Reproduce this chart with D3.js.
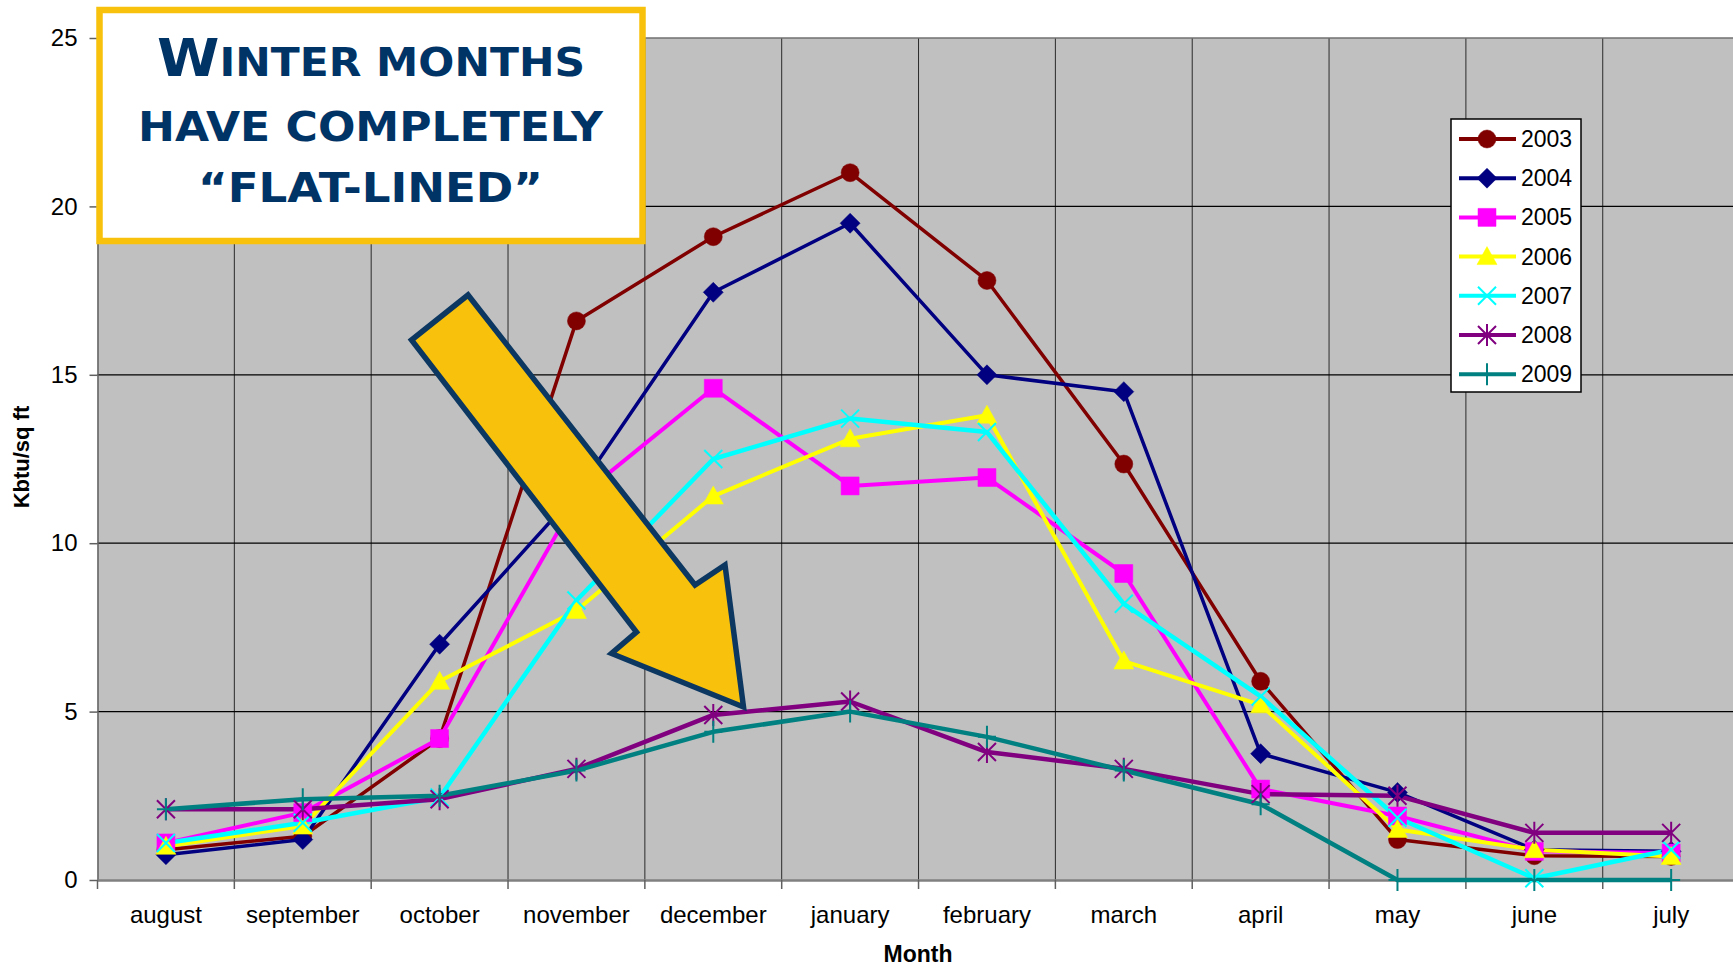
<!DOCTYPE html>
<html>
<head>
<meta charset="utf-8">
<script src="https://cdn.jsdelivr.net/npm/d3@7"></script>
<style>
    body { margin: 0; background: #ffffff; }
    svg { display: block; font-family: "Liberation Sans", Arial, sans-serif; }
</style>
</head>
<body>
<svg></svg>
<script>
// chart data
var months = ["august", "september", "october", "november", "december", "january",
              "february", "march", "april", "may", "june", "july"];
var years = ["2003", "2004", "2005", "2006", "2007", "2008", "2009"];
var yTicks = [0, 5, 10, 15, 20, 25];

var y2003 = [0.9, 1.3, 4.2, 16.6, 19.1, 21.0, 17.8, 12.35, 5.9, 1.2, 0.72, 0.7];
var y2004 = [0.75, 1.2, 7.0, 11.5, 17.45, 19.5, 15.0, 14.5, 3.75, 2.6, 0.9, 0.85];
var y2005 = [1.1, 2.0, 4.2, 11.3, 14.6, 11.7, 11.95, 9.1, 2.7, 1.9, 0.85, 0.8];
var y2006 = [1.0, 1.6, 5.9, 8.0, 11.4, 13.1, 13.8, 6.5, 5.2, 1.5, 0.9, 0.7];
var y2007 = [1.1, 1.7, 2.45, 8.3, 12.5, 13.7, 13.3, 8.2, 5.45, 1.85, 0.05, 0.9];
var y2008 = [2.1, 2.1, 2.4, 3.3, 4.9, 5.3, 3.8, 3.3, 2.55, 2.5, 1.4, 1.4];
var y2009 = [2.1, 2.4, 2.5, 3.25, 4.4, 5.0, 4.25, 3.25, 2.25, 0, 0, 0];

var yearValues = [y2003, y2004, y2005, y2006, y2007, y2008, y2009];

// styles per series
var colors = ["#800000", "#000080", "#ff00ff", "#ffff00", "#00ffff", "#800080", "#008080"];
var lineWidths = [3.5, 3.5, 4, 4, 4.5, 4.5, 4.5];
var markers = ["circle", "diamond", "square", "triangle", "cross", "star", "plus"];

var markerPaths = {
    circle: d3.symbol(d3.symbolCircle, 255)(),
    diamond: "M0,-10L10,0L0,10L-10,0Z",
    square: "M-9,-9H9V9H-9Z",
    triangle: "M0,-10L10,8L-10,8Z",
    cross: "M-9,-9L9,9M-9,9L9,-9",
    star: "M-9,-9L9,9M-9,9L9,-9M0,-11V11",
    plus: "M0,-11V11M-9,0H9"
};
var filled = {circle: true, diamond: true, square: true, triangle: true};

var series = years.map(function(y, i) {
    return {
        name: y,
        color: colors[i],
        width: lineWidths[i],
        marker: markers[i],
        values: months.map(function(m, j) { return {month: m, value: yearValues[i][j]}; })
    };
});

// svg configuration
var width = 1733;
var height = 969;
var svg = d3.select("svg")
    .attr("width", width)
    .attr("height", height);

var margin = {left: 97.5, top: 38, bottom: 880};
var step = 136.84;

var xScale = d3.scaleBand()
    .domain(months)
    .range([margin.left, margin.left + step * months.length]);

var yScale = d3.scaleLinear()
    .domain([0, 25])
    .range([margin.bottom, margin.top]);

// plot background
svg.append("rect")
    .attr("x", xScale.range()[0])
    .attr("y", yScale(25))
    .attr("width", xScale.range()[1] - xScale.range()[0])
    .attr("height", yScale(0) - yScale(25))
    .style("fill", "#c0c0c0");

// vertical grid at category boundaries
svg.selectAll(".vgrid")
    .data(months.slice(1))
    .enter()
    .append("line")
    .attr("class", "vgrid")
    .attr("x1", function(d) { return xScale(d); })
    .attr("x2", function(d) { return xScale(d); })
    .attr("y1", yScale(25))
    .attr("y2", yScale(0))
    .style("stroke", "#2a2a2a")
    .style("stroke-width", 1);

// horizontal grid
svg.selectAll(".hgrid")
    .data(yTicks.filter(function(t) { return t > 0 && t < 25; }))
    .enter()
    .append("line")
    .attr("class", "hgrid")
    .attr("x1", xScale.range()[0])
    .attr("x2", xScale.range()[1])
    .attr("y1", function(d) { return yScale(d); })
    .attr("y2", function(d) { return yScale(d); })
    .style("stroke", "#000")
    .style("stroke-width", 1.3);

// top border
svg.append("line")
    .attr("x1", xScale.range()[0])
    .attr("x2", xScale.range()[1])
    .attr("y1", yScale(25))
    .attr("y2", yScale(25))
    .style("stroke", "#707070")
    .style("stroke-width", 1.5);

// y-axis
var yAxis = d3.axisLeft(yScale)
    .tickValues(yTicks)
    .tickSize(8)
    .tickSizeOuter(0)
    .tickPadding(12);

var gy = svg.append("g")
    .attr("transform", "translate(" + margin.left + ",0)")
    .call(yAxis);
gy.select(".domain").style("stroke", "#606060").style("stroke-width", 1.5);
gy.selectAll(".tick line").style("stroke", "#606060").style("stroke-width", 1.5);
gy.selectAll("text")
    .style("font-size", "24px")
    .style("font-family", "Liberation Sans, Arial, sans-serif")
    .style("fill", "#000");

// x-axis
var xAxis = d3.axisBottom(xScale)
    .tickSize(0)
    .tickSizeOuter(0)
    .tickPadding(26);

var gx = svg.append("g")
    .attr("transform", "translate(0," + margin.bottom + ")")
    .call(xAxis);
gx.select(".domain").style("stroke", "#808080").style("stroke-width", 2.5);
gx.selectAll("text")
    .style("font-size", "24px")
    .style("font-family", "Liberation Sans, Arial, sans-serif")
    .style("fill", "#000");

// x tick marks between categories
gx.selectAll(".btick")
    .data(months)
    .enter()
    .append("line")
    .attr("class", "btick")
    .attr("x1", function(d) { return xScale(d); })
    .attr("x2", function(d) { return xScale(d); })
    .attr("y1", 0)
    .attr("y2", 9)
    .style("stroke", "#606060")
    .style("stroke-width", 1.5);

// line generator
var line = d3.line()
    .x(function(d) { return xScale(d.month) + xScale.bandwidth() / 2; })
    .y(function(d) { return yScale(d.value); });

// lines first
svg.selectAll(".series")
    .data(series)
    .enter()
    .append("path")
    .attr("class", "series")
    .attr("d", function(d) { return line(d.values); })
    .style("fill", "none")
    .style("stroke", function(d) { return d.color; })
    .style("stroke-width", function(d) { return d.width; })
    .style("stroke-linejoin", "round");

// markers
var drawMarker = function(sel, s) {
    sel.attr("d", markerPaths[s.marker])
        .style("fill", filled[s.marker] ? s.color : "none")
        .style("stroke", s.color)
        .style("stroke-width", filled[s.marker] ? 0.5 : 2);
};

series.forEach(function(s) {
    svg.append("g")
        .selectAll("path")
        .data(s.values)
        .enter()
        .append("path")
        .attr("transform", function(d) {
            return "translate(" + (xScale(d.month) + xScale.bandwidth() / 2) + "," + yScale(d.value) + ")";
        })
        .call(drawMarker, s);
});

// annotation arrow (hard coded)
svg.append("polygon")
    .attr("points", [[468, 295], [411.5, 340], [636.5, 632], [611.5, 653.5],
                     [743.5, 707], [725, 565], [695, 585]].join(" "))
    .style("fill", "#f8c20c")
    .style("stroke", "#0c3761")
    .style("stroke-width", 5.5)
    .style("stroke-linejoin", "miter");

// annotation box
svg.append("rect")
    .attr("x", 99.5)
    .attr("y", 10)
    .attr("width", 543)
    .attr("height", 231)
    .style("fill", "#ffffff")
    .style("stroke", "#f8c20c")
    .style("stroke-width", 6.5);

var boxText = svg.append("g")
    .style("font-family", "DejaVu Sans, Verdana, sans-serif")
    .style("font-weight", "bold")
    .style("fill", "#003366")
    .attr("text-anchor", "middle");

var t1 = boxText.append("text")
    .attr("x", 371)
    .attr("y", 75.5)
    .attr("textLength", 428)
    .attr("lengthAdjust", "spacingAndGlyphs");
t1.append("tspan").style("font-size", "52px").text("W");
t1.append("tspan").style("font-size", "39px").text("INTER MONTHS");

boxText.append("text")
    .attr("x", 370.5)
    .attr("y", 140.5)
    .attr("textLength", 465)
    .attr("lengthAdjust", "spacingAndGlyphs")
    .style("font-size", "41px")
    .text("HAVE COMPLETELY");

boxText.append("text")
    .attr("x", 370.5)
    .attr("y", 202)
    .attr("textLength", 345)
    .attr("lengthAdjust", "spacingAndGlyphs")
    .style("font-size", "40px")
    .text("\u201CFLAT-LINED\u201D");

// legend
var xLegend = 1451;
var yLegend = 119;
var legendStep = 39.2;

var legend = svg.append("g").attr("id", "legend");

legend.append("rect")
    .attr("x", xLegend)
    .attr("y", yLegend)
    .attr("width", 130)
    .attr("height", 273)
    .style("fill", "#ffffff")
    .style("stroke", "#000")
    .style("stroke-width", 1.5);

var items = legend.selectAll(".item")
    .data(series)
    .enter()
    .append("g")
    .attr("class", "item")
    .attr("transform", function(d, i) { return "translate(0," + (yLegend + 20 + i * legendStep) + ")"; });

items.append("line")
    .attr("x1", xLegend + 8)
    .attr("x2", xLegend + 65)
    .attr("y1", 0)
    .attr("y2", 0)
    .style("stroke", function(d) { return d.color; })
    .style("stroke-width", 4);

items.append("path")
    .attr("transform", "translate(" + (xLegend + 36) + ",0)")
    .each(function(d) { d3.select(this).call(drawMarker, d); });

items.append("text")
    .attr("x", xLegend + 70)
    .attr("y", 0)
    .attr("dy", "0.35em")
    .style("font-size", "23px")
    .style("fill", "#000")
    .text(function(d) { return d.name; });

// axis titles
svg.append("text")
    .attr("x", 918)
    .attr("y", 962)
    .attr("text-anchor", "middle")
    .style("font-size", "23px")
    .style("font-weight", "bold")
    .text("Month");

svg.append("text")
    .attr("transform", "translate(29,457) rotate(-90)")
    .attr("text-anchor", "middle")
    .style("font-size", "22px")
    .style("font-weight", "bold")
    .text("Kbtu/sq ft");
</script>
</body>
</html>
